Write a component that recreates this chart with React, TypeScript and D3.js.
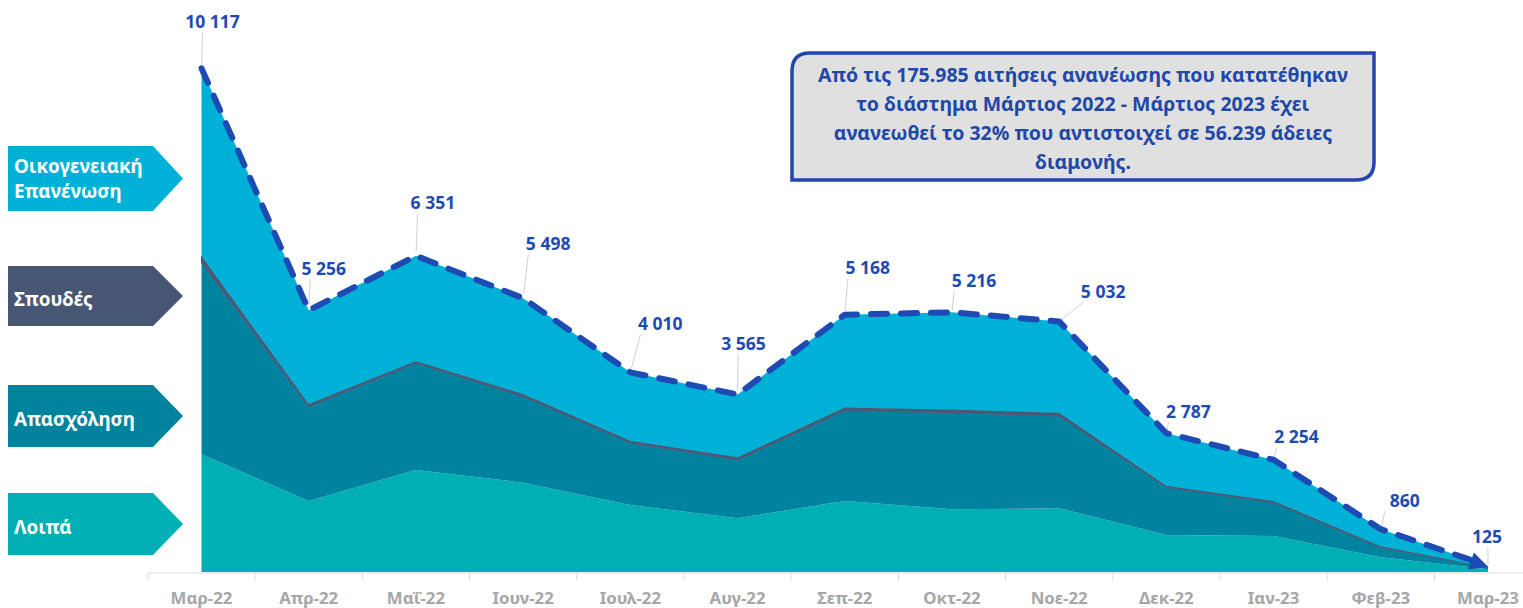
import React from "react";
import * as d3 from "d3";

const categories = ["Μαρ-22","Απρ-22","Μαΐ-22","Ιουν-22","Ιουλ-22","Αυγ-22","Σεπ-22","Οκτ-22","Νοε-22","Δεκ-22","Ιαν-23","Φεβ-23","Μαρ-23"];
const loipa = [2364,1426,2049,1794,1346,1078,1426,1259,1279,743,723,295,55];
const apasxolisi = [3848,1894,2149,1727,1245,1171,1814,1941,1854,958,669,193,40];
const spoudes = [135,55,40,55,45,55,65,65,65,30,35,30,5];
const oikogeneiaki = [3770,1881,2113,1922,1374,1261,1863,1951,1834,1056,827,342,25];
const seriesNames = ["Λοιπά","Απασχόληση","Σπουδές","Οικογενειακή Επανένωση"];
const infoLines = [
  "Από τις 175.985 αιτήσεις ανανέωσης που κατατέθηκαν",
  "το διάστημα Μάρτιος 2022  - Μάρτιος 2023 έχει",
  "ανανεωθεί το 32% που αντιστοιχεί σε 56.239 άδειες",
  "διαμονής.",
];

// styling
const W = 1523, H = 608;
const colors = ["#00AFB3", "#00839F", "#4A5878", "#00B1D7"];
const legendColors = ["#00AFB3", "#00849E", "#465673", "#00B1D7"];
const labelOffsets: [number, number][] = [[11,-47],[15,-42],[17,-53],[25,-55],[30,-49],[6,-51],[23,-47],[22,-32],[44,-30],[22,-22],[23,-23],[24,-29],[-1,-29]];
const FONT = "'Noto Sans', 'DejaVu Sans', sans-serif";
const BLUE = "#1E4BB3";

export default function App() {
  const x = d3.scalePoint<string>().domain(categories).range([201.5, 1488]);
  const step = x.step();
  const y = d3.scaleLinear().domain([0, 11488]).range([572, 0]);

  const rows = categories.map((c, i) => ({
    c,
    [seriesNames[0]]: loipa[i],
    [seriesNames[1]]: apasxolisi[i],
    [seriesNames[2]]: spoudes[i],
    [seriesNames[3]]: oikogeneiaki[i],
  })) as any[];
  const stacked = d3.stack<any>().keys(seriesNames)(rows);
  const area = d3.area<any>()
    .x((d) => x(d.data.c)!)
    .y0((d) => y(d[0]))
    .y1((d) => y(d[1]));
  const totals = categories.map((_, i) => loipa[i] + apasxolisi[i] + spoudes[i] + oikogeneiaki[i]);
  const pts = totals.map((t, i) => [x(categories[i])!, y(t)] as [number, number]);

  // dashed line ending before arrow head
  const n = pts.length;
  const [ax, ay] = pts[n - 2];
  const [bx, by] = pts[n - 1];
  const ang = Math.atan2(by - ay, bx - ax);
  const headLen = 18, headW = 9;
  const lineEnd: [number, number] = [bx - Math.cos(ang) * headLen * 0.8, by - Math.sin(ang) * headLen * 0.8];
  const linePts = [...pts.slice(0, n - 1), lineEnd];
  const lineGen = d3.line<[number, number]>();
  const tip: [number, number] = [bx, by + 1];
  const baseC: [number, number] = [tip[0] - Math.cos(ang) * headLen, tip[1] - Math.sin(ang) * headLen];
  const arrow = [
    tip,
    [baseC[0] + Math.sin(ang) * headW, baseC[1] - Math.cos(ang) * headW],
    [baseC[0] - Math.sin(ang) * headW, baseC[1] + Math.cos(ang) * headW],
  ];

  const fmt = (v: number) => d3.format(",")(v).replace(/,/g, " ");

  const legendY = [493, 385, 266, 146];
  const legendH = [62, 62, 60, 65];

  // info box path: rounded top-left & bottom-right
  const bx0 = 792, by0 = 53, bx1 = 1374, by1 = 180, r = 18;
  const boxPath = `M${bx0},${by0 + r} Q${bx0},${by0} ${bx0 + r},${by0} L${bx1},${by0} L${bx1},${by1 - r} Q${bx1},${by1} ${bx1 - r},${by1} L${bx0},${by1} Z`;

  return (
    <svg width={W} height={H} style={{ position: "absolute", left: 0, top: 0, fontFamily: FONT }}>
      <rect width={W} height={H} fill="#fff" />
      {/* axis */}
      <line x1={148} x2={W} y1={573} y2={573} stroke="#D9D9D9" strokeWidth={1} />
      {d3.range(categories.length + 1).map((k) => {
        const tx = 201.5 - step / 2 + k * step;
        return <line key={k} x1={tx} x2={tx} y1={573} y2={580} stroke="#D9D9D9" />;
      })}
      {categories.map((c) => (
        <text key={c} x={x(c)} y={604} textAnchor="middle" fontSize={16.8} fontWeight={700} fill="#A6A6A6">{c}</text>
      ))}
      {/* areas */}
      {stacked.map((s, i) => (
        <path key={s.key} d={area(s)!} fill={colors[i]} stroke={i === 2 ? colors[i] : "none"} strokeWidth={i === 2 ? 1 : 0} />
      ))}
      {/* leaders */}
      {pts.map(([px, py], i) => {
        const lx = px + labelOffsets[i][0], ly = py + labelOffsets[i][1];
        const half = 22;
        const sx = lx + Math.max(-half, Math.min(half, px - lx)) * 0.9;
        const sy = ly + 11;
        const ex = sx + (px - sx) * 0.9, ey = sy + (py - sy) * 0.9;
        return <line key={i} x1={sx} y1={sy} x2={ex} y2={ey} stroke="#D0D0D0" strokeWidth={1} />;
      })}
      {/* total dashed line */}
      <path d={lineGen(linePts)!} fill="none" stroke={BLUE} strokeWidth={6} strokeDasharray="16 14" strokeLinecap="round" strokeLinejoin="round" />
      <polygon points={arrow.map((p) => p.join(",")).join(" ")} fill={BLUE} />
      {/* labels */}
      {pts.map(([px, py], i) => (
        <text key={i} x={px + labelOffsets[i][0]} y={py + labelOffsets[i][1] + 6.5} textAnchor="middle" fontSize={17.5} fontWeight={700} fill={BLUE}>{fmt(totals[i])}</text>
      ))}
      {/* legend arrows */}
      {seriesNames.map((name, i) => {
        const top = legendY[i], h = legendH[i];
        const tipX = 183, bodyX = tipX - 30;
        const pts2 = `8,${top} ${bodyX},${top} ${tipX},${top + h / 2} ${bodyX},${top + h} 8,${top + h}`;
        const words = i === 3 ? ["Οικογενειακή", "Επανένωση"] : [name];
        return (
          <g key={name}>
            <polygon points={pts2} fill={legendColors[i]} />
            {words.map((w, j) => (
              <text key={j} x={14} y={top + h / 2 + 6.5 + (words.length === 2 ? (j === 0 ? -12 : 13) : 3)} fontSize={18.8} fontWeight={700} fill="#fff">{w}</text>
            ))}
          </g>
        );
      })}
      {/* info box */}
      <path d={boxPath} fill="#E0E0E0" stroke="#2246AE" strokeWidth={3.5} />
      {infoLines.map((t, i) => (
        <text key={i} x={1083} y={82 + i * 29} textAnchor="middle" fontSize={19.5} fontWeight={700} fill="#2048A8">{t}</text>
      ))}
    </svg>
  );
}
